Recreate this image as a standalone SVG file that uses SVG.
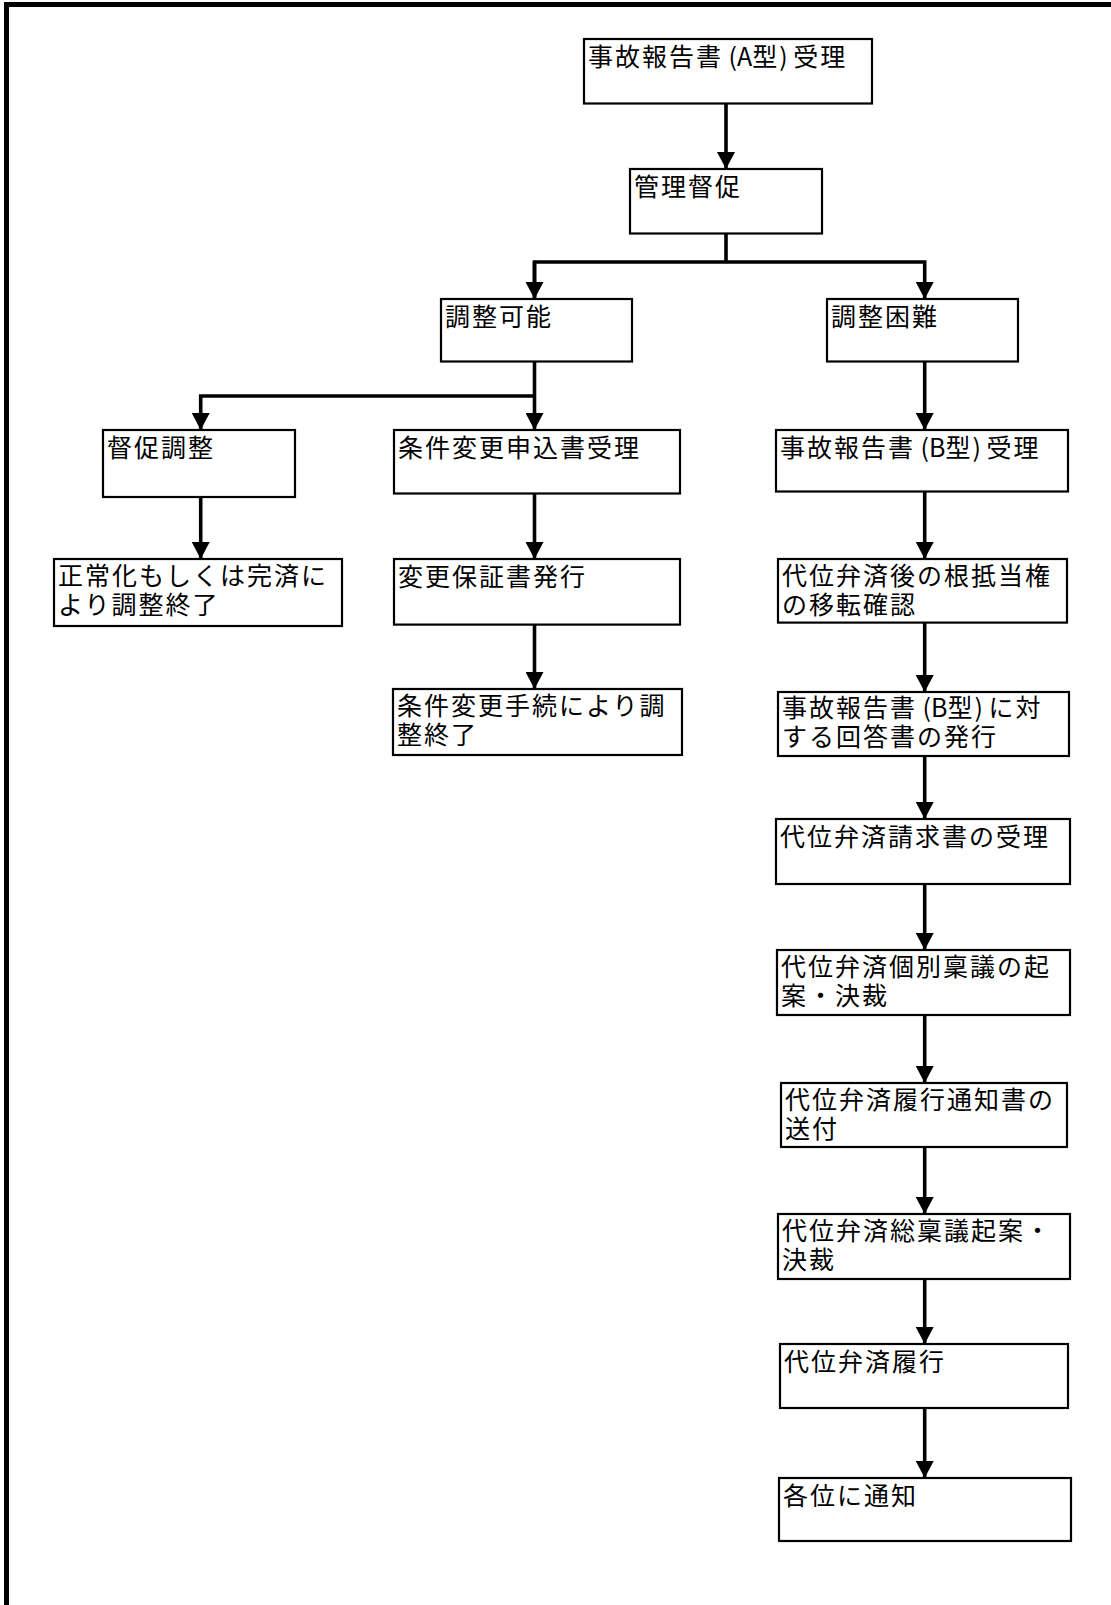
<svg xmlns="http://www.w3.org/2000/svg" width="1111" height="1605" viewBox="0 0 1111 1605">
<style>
.box{fill:#fff;stroke:#000;stroke-width:2.2}
.t{font-family:"Noto Sans CJK JP","Noto Sans CJK SC",sans-serif;font-size:25px;letter-spacing:2px;fill:#000}
.n{letter-spacing:0}
.c{fill:none;stroke:#000;stroke-width:3.6}
.frame{stroke:#000;stroke-width:5;fill:none}
</style>
<defs>
<marker id="ah" viewBox="0 0 17 18" refX="17" refY="9" markerWidth="17" markerHeight="18" markerUnits="userSpaceOnUse" orient="auto">
<path d="M0,0 L17,9 L0,18 z" fill="#000"/>
</marker>
</defs>
<rect width="1111" height="1605" fill="#fff"/>
<g id="frame">
<line class="frame" x1="4" y1="4.5" x2="1111" y2="4.5"/>
<line class="frame" x1="6.5" y1="2" x2="6.5" y2="1605"/>
</g>
<g id="connectors">
<line class="c" x1="726" y1="103.5" x2="726" y2="169" marker-end="url(#ah)"/>
<polyline class="c" points="726,233.5 726,262"/>
<polyline class="c" points="534.5,299 534.5,262 924.7,262 924.7,299" marker-end="url(#ah)"/>
<line class="c" x1="534.5" y1="262" x2="534.5" y2="299" marker-end="url(#ah)"/>
<line class="c" x1="534.5" y1="361.5" x2="534.5" y2="430" marker-end="url(#ah)"/>
<polyline class="c" points="534.5,396 200.7,396 200.7,430" marker-end="url(#ah)"/>
<line class="c" x1="200.7" y1="497" x2="200.7" y2="559" marker-end="url(#ah)"/>
<line class="c" x1="534.5" y1="493.5" x2="534.5" y2="559" marker-end="url(#ah)"/>
<line class="c" x1="534.5" y1="624.6" x2="534.5" y2="689" marker-end="url(#ah)"/>
<line class="c" x1="924.7" y1="361.5" x2="924.7" y2="430" marker-end="url(#ah)"/>
<line class="c" x1="924.7" y1="491.5" x2="924.7" y2="559" marker-end="url(#ah)"/>
<line class="c" x1="924.7" y1="622.6" x2="924.7" y2="692" marker-end="url(#ah)"/>
<line class="c" x1="924.7" y1="756" x2="924.7" y2="819" marker-end="url(#ah)"/>
<line class="c" x1="924.7" y1="884" x2="924.7" y2="950" marker-end="url(#ah)"/>
<line class="c" x1="924.7" y1="1015" x2="924.7" y2="1083" marker-end="url(#ah)"/>
<line class="c" x1="924.7" y1="1147" x2="924.7" y2="1214" marker-end="url(#ah)"/>
<line class="c" x1="924.7" y1="1279" x2="924.7" y2="1344" marker-end="url(#ah)"/>
<line class="c" x1="924.7" y1="1408" x2="924.7" y2="1478" marker-end="url(#ah)"/>
</g>
<g id="n1"><rect class="box" x="584" y="39" width="288" height="64.5"/><text class="t" x="588" y="66">事故報告書<tspan class="n"> (A</tspan>型<tspan class="n">) </tspan>受理</text></g>
<g id="n2"><rect class="box" x="630" y="169" width="192" height="64.5"/><text class="t" x="634" y="196">管理督促</text></g>
<g id="n3"><rect class="box" x="441" y="299" width="191" height="62.5"/><text class="t" x="445" y="326">調整可能</text></g>
<g id="n4"><rect class="box" x="827" y="299" width="191" height="62.5"/><text class="t" x="831" y="326">調整困難</text></g>
<g id="n5"><rect class="box" x="103" y="430" width="192" height="67"/><text class="t" x="107" y="457">督促調整</text></g>
<g id="n6"><rect class="box" x="394" y="430" width="286" height="63.5"/><text class="t" x="398" y="457">条件変更申込書受理</text></g>
<g id="n7"><rect class="box" x="776" y="430" width="292" height="61.5"/><text class="t" x="780" y="457">事故報告書<tspan class="n"> (B</tspan>型<tspan class="n">) </tspan>受理</text></g>
<g id="n8"><rect class="box" x="54" y="559" width="288" height="67"/><text class="t" x="58" y="585">正常化もしくは完済に<tspan x="58" dy="29">より調整終了</tspan></text></g>
<g id="n9"><rect class="box" x="394" y="559" width="286" height="65.6"/><text class="t" x="398" y="586">変更保証書発行</text></g>
<g id="n10"><rect class="box" x="778" y="559" width="289" height="63.6"/><text class="t" x="782" y="585">代位弁済後の根抵当権<tspan x="782" dy="29">の移転確認</tspan></text></g>
<g id="n11"><rect class="box" x="393" y="689" width="289" height="66"/><text class="t" x="397" y="715">条件変更手続により調<tspan x="397" dy="29">整終了</tspan></text></g>
<g id="n12"><rect class="box" x="778" y="692" width="291" height="64"/><text class="t" x="782" y="717">事故報告書<tspan class="n"> (B</tspan>型<tspan class="n">) </tspan>に対<tspan x="782" dy="29">する回答書の発行</tspan></text></g>
<g id="n13"><rect class="box" x="776" y="819" width="294" height="65"/><text class="t" x="780" y="846">代位弁済請求書の受理</text></g>
<g id="n14"><rect class="box" x="777" y="950" width="293" height="65"/><text class="t" x="781" y="976">代位弁済個別稟議の起<tspan x="781" dy="29">案・決裁</tspan></text></g>
<g id="n15"><rect class="box" x="781" y="1083" width="286" height="64"/><text class="t" x="785" y="1109">代位弁済履行通知書の<tspan x="785" dy="29">送付</tspan></text></g>
<g id="n16"><rect class="box" x="778" y="1214" width="292" height="65"/><text class="t" x="782" y="1240">代位弁済総稟議起案・<tspan x="782" dy="29">決裁</tspan></text></g>
<g id="n17"><rect class="box" x="780" y="1344" width="288" height="64"/><text class="t" x="784" y="1371">代位弁済履行</text></g>
<g id="n18"><rect class="box" x="779" y="1478" width="292" height="63"/><text class="t" x="783" y="1505">各位に通知</text></g>
</svg>
